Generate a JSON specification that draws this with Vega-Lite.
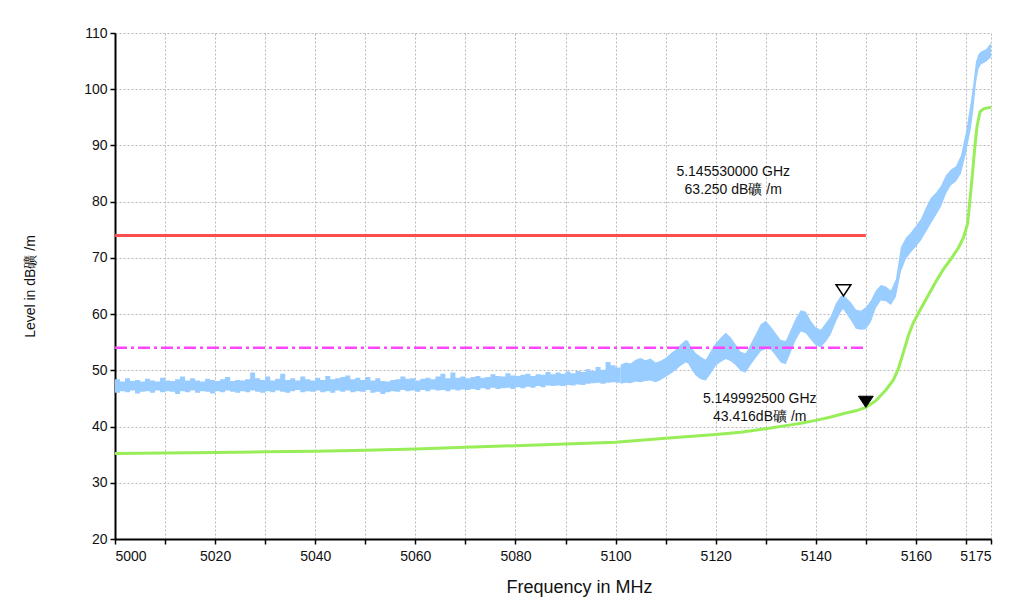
{
  "$schema": "https://vega.github.io/schema/vega-lite/v6.json",
  "width": 876,
  "height": 506,
  "autosize": "none",
  "padding": {"left": 115, "top": 33, "right": 44, "bottom": 60},
  "background": "white",
  "config": {
    "view": {"stroke": null},
    "font": "Liberation Sans",
    "axis": {
      "domainColor": "black", "domainWidth": 2,
      "tickColor": "black", "tickWidth": 1.5, "tickSize": 5,
      "labelFont": "Liberation Sans", "labelFontSize": 14, "labelColor": "#111",
      "titleFont": "Liberation Sans", "titleFontWeight": "normal", "titleColor": "#111",
      "gridColor": "#b8b8b8", "gridDash": [2, 2], "gridWidth": 1
    }
  },
  "datasets": {
    "blue": [
      {"f": 5000, "lo": 46.0, "hi": 48.4}, {"f": 5001, "lo": 46.3, "hi": 48.0}, {"f": 5002, "lo": 46.1, "hi": 48.6},
      {"f": 5003, "lo": 46.4, "hi": 48.1}, {"f": 5004, "lo": 45.9, "hi": 48.3}, {"f": 5005, "lo": 46.2, "hi": 48.0},
      {"f": 5006, "lo": 46.3, "hi": 48.5}, {"f": 5007, "lo": 46.0, "hi": 48.2}, {"f": 5008, "lo": 46.4, "hi": 48.0},
      {"f": 5009, "lo": 46.1, "hi": 48.7}, {"f": 5010, "lo": 46.3, "hi": 48.2}, {"f": 5011, "lo": 46.2, "hi": 48.1},
      {"f": 5012, "lo": 45.8, "hi": 48.4}, {"f": 5013, "lo": 46.3, "hi": 48.9}, {"f": 5014, "lo": 46.1, "hi": 48.2},
      {"f": 5015, "lo": 46.4, "hi": 48.6}, {"f": 5016, "lo": 46.0, "hi": 48.2}, {"f": 5017, "lo": 46.3, "hi": 48.0},
      {"f": 5018, "lo": 46.2, "hi": 48.5}, {"f": 5019, "lo": 45.9, "hi": 48.3}, {"f": 5020, "lo": 46.3, "hi": 48.1},
      {"f": 5021, "lo": 46.1, "hi": 48.4}, {"f": 5022, "lo": 46.4, "hi": 48.8}, {"f": 5023, "lo": 46.2, "hi": 48.1},
      {"f": 5024, "lo": 46.0, "hi": 48.3}, {"f": 5025, "lo": 46.3, "hi": 48.2}, {"f": 5026, "lo": 46.1, "hi": 48.4},
      {"f": 5027, "lo": 46.4, "hi": 49.6}, {"f": 5028, "lo": 46.2, "hi": 48.6}, {"f": 5029, "lo": 46.0, "hi": 48.3},
      {"f": 5030, "lo": 46.3, "hi": 48.9}, {"f": 5031, "lo": 46.1, "hi": 48.2}, {"f": 5032, "lo": 46.4, "hi": 48.5},
      {"f": 5033, "lo": 46.2, "hi": 49.4}, {"f": 5034, "lo": 46.0, "hi": 48.3}, {"f": 5035, "lo": 46.3, "hi": 48.6},
      {"f": 5036, "lo": 46.5, "hi": 48.2}, {"f": 5037, "lo": 46.1, "hi": 48.9}, {"f": 5038, "lo": 46.3, "hi": 48.4},
      {"f": 5039, "lo": 46.2, "hi": 48.2}, {"f": 5040, "lo": 46.4, "hi": 48.7}, {"f": 5041, "lo": 46.1, "hi": 48.3},
      {"f": 5042, "lo": 46.3, "hi": 49.0}, {"f": 5043, "lo": 46.0, "hi": 48.4}, {"f": 5044, "lo": 46.4, "hi": 48.6},
      {"f": 5045, "lo": 46.2, "hi": 48.8}, {"f": 5046, "lo": 46.4, "hi": 49.1}, {"f": 5047, "lo": 46.1, "hi": 48.4},
      {"f": 5048, "lo": 46.3, "hi": 48.7}, {"f": 5049, "lo": 46.2, "hi": 48.3}, {"f": 5050, "lo": 46.5, "hi": 48.8},
      {"f": 5051, "lo": 46.0, "hi": 48.2}, {"f": 5052, "lo": 46.2, "hi": 48.6}, {"f": 5053, "lo": 45.8, "hi": 48.1},
      {"f": 5054, "lo": 46.1, "hi": 48.0}, {"f": 5055, "lo": 46.3, "hi": 48.3}, {"f": 5056, "lo": 46.2, "hi": 48.4},
      {"f": 5057, "lo": 46.5, "hi": 48.9}, {"f": 5058, "lo": 46.3, "hi": 48.5}, {"f": 5059, "lo": 46.4, "hi": 48.6},
      {"f": 5060, "lo": 46.2, "hi": 48.2}, {"f": 5061, "lo": 46.5, "hi": 48.5}, {"f": 5062, "lo": 46.3, "hi": 48.7},
      {"f": 5063, "lo": 46.6, "hi": 48.4}, {"f": 5064, "lo": 46.4, "hi": 48.9}, {"f": 5065, "lo": 46.5, "hi": 49.4},
      {"f": 5066, "lo": 46.3, "hi": 48.6}, {"f": 5067, "lo": 46.6, "hi": 49.6}, {"f": 5068, "lo": 46.4, "hi": 48.7},
      {"f": 5069, "lo": 46.6, "hi": 48.9}, {"f": 5070, "lo": 46.5, "hi": 48.6}, {"f": 5071, "lo": 46.7, "hi": 48.8},
      {"f": 5072, "lo": 46.5, "hi": 49.0}, {"f": 5073, "lo": 46.8, "hi": 48.7}, {"f": 5074, "lo": 46.6, "hi": 48.8},
      {"f": 5075, "lo": 46.9, "hi": 49.3}, {"f": 5076, "lo": 46.7, "hi": 49.0}, {"f": 5077, "lo": 46.8, "hi": 48.9},
      {"f": 5078, "lo": 46.9, "hi": 49.5}, {"f": 5079, "lo": 46.7, "hi": 49.1}, {"f": 5080, "lo": 47.0, "hi": 49.0},
      {"f": 5081, "lo": 46.8, "hi": 49.2}, {"f": 5082, "lo": 47.1, "hi": 49.4}, {"f": 5083, "lo": 46.9, "hi": 49.0},
      {"f": 5084, "lo": 47.2, "hi": 49.3}, {"f": 5085, "lo": 47.0, "hi": 49.2}, {"f": 5086, "lo": 47.3, "hi": 49.7},
      {"f": 5087, "lo": 47.2, "hi": 49.3}, {"f": 5088, "lo": 47.3, "hi": 49.6}, {"f": 5089, "lo": 47.2, "hi": 49.4},
      {"f": 5090, "lo": 47.4, "hi": 49.8}, {"f": 5091, "lo": 47.3, "hi": 49.5}, {"f": 5092, "lo": 47.5, "hi": 49.9},
      {"f": 5093, "lo": 47.4, "hi": 49.7}, {"f": 5094, "lo": 47.6, "hi": 50.2}, {"f": 5095, "lo": 47.7, "hi": 49.9},
      {"f": 5096, "lo": 47.8, "hi": 50.6}, {"f": 5097, "lo": 47.6, "hi": 50.1}, {"f": 5098, "lo": 47.8, "hi": 51.5},
      {"f": 5099, "lo": 47.9, "hi": 50.9}, {"f": 5100, "lo": 47.8, "hi": 50.5}, {"f": 5101, "lo": 47.6, "hi": 51.0},
      {"f": 5102, "lo": 47.8, "hi": 51.4}, {"f": 5103, "lo": 47.7, "hi": 51.2}, {"f": 5104, "lo": 48.0, "hi": 51.9},
      {"f": 5105, "lo": 47.9, "hi": 52.2}, {"f": 5106, "lo": 48.1, "hi": 51.8}, {"f": 5107, "lo": 48.2, "hi": 52.1},
      {"f": 5108, "lo": 47.9, "hi": 51.4}, {"f": 5109, "lo": 48.3, "hi": 51.7}, {"f": 5110, "lo": 48.8, "hi": 52.2},
      {"f": 5111, "lo": 49.4, "hi": 53.0}, {"f": 5112, "lo": 50.0, "hi": 53.7}, {"f": 5113, "lo": 50.8, "hi": 54.6},
      {"f": 5114, "lo": 51.4, "hi": 55.4}, {"f": 5114.5, "lo": 51.2, "hi": 55.2}, {"f": 5115, "lo": 50.4, "hi": 54.3},
      {"f": 5116, "lo": 49.1, "hi": 53.1}, {"f": 5117, "lo": 48.4, "hi": 52.4}, {"f": 5118, "lo": 48.2, "hi": 51.9},
      {"f": 5119, "lo": 49.4, "hi": 53.4}, {"f": 5120, "lo": 50.8, "hi": 54.8}, {"f": 5121, "lo": 51.5, "hi": 55.8},
      {"f": 5122, "lo": 52.0, "hi": 56.7}, {"f": 5123, "lo": 51.6, "hi": 55.9}, {"f": 5124, "lo": 50.9, "hi": 54.6},
      {"f": 5125, "lo": 49.9, "hi": 53.3}, {"f": 5126, "lo": 49.6, "hi": 53.0}, {"f": 5127, "lo": 51.0, "hi": 54.7},
      {"f": 5128, "lo": 52.2, "hi": 56.4}, {"f": 5129, "lo": 53.4, "hi": 58.2}, {"f": 5130, "lo": 53.8, "hi": 58.8},
      {"f": 5131, "lo": 53.7, "hi": 57.8}, {"f": 5132, "lo": 52.6, "hi": 56.6}, {"f": 5133, "lo": 51.4, "hi": 55.4},
      {"f": 5134, "lo": 51.1, "hi": 55.2}, {"f": 5135, "lo": 53.2, "hi": 57.2}, {"f": 5136, "lo": 55.4, "hi": 59.2},
      {"f": 5137, "lo": 56.9, "hi": 60.7}, {"f": 5138, "lo": 56.6, "hi": 60.4}, {"f": 5139, "lo": 55.5, "hi": 58.8},
      {"f": 5140, "lo": 54.4, "hi": 57.6}, {"f": 5141, "lo": 54.1, "hi": 57.2}, {"f": 5142, "lo": 55.1, "hi": 58.4},
      {"f": 5143, "lo": 56.4, "hi": 59.6}, {"f": 5144, "lo": 58.6, "hi": 61.9}, {"f": 5145, "lo": 60.4, "hi": 63.2},
      {"f": 5145.5, "lo": 60.9, "hi": 63.4}, {"f": 5146, "lo": 60.2, "hi": 63.0}, {"f": 5147, "lo": 58.9, "hi": 62.1},
      {"f": 5148, "lo": 57.4, "hi": 60.8}, {"f": 5149, "lo": 57.2, "hi": 60.6}, {"f": 5150, "lo": 57.3, "hi": 61.2},
      {"f": 5151, "lo": 58.6, "hi": 62.4}, {"f": 5152, "lo": 61.1, "hi": 64.2}, {"f": 5153, "lo": 62.4, "hi": 65.2},
      {"f": 5154, "lo": 62.3, "hi": 64.9}, {"f": 5155, "lo": 61.6, "hi": 64.2}, {"f": 5156, "lo": 63.1, "hi": 66.2},
      {"f": 5157, "lo": 67.6, "hi": 71.9}, {"f": 5158, "lo": 69.8, "hi": 73.6}, {"f": 5159, "lo": 71.0, "hi": 74.5},
      {"f": 5160, "lo": 72.0, "hi": 75.7}, {"f": 5161, "lo": 73.1, "hi": 76.9}, {"f": 5162, "lo": 74.6, "hi": 78.9},
      {"f": 5163, "lo": 76.1, "hi": 80.7}, {"f": 5164, "lo": 77.6, "hi": 81.6}, {"f": 5165, "lo": 79.1, "hi": 82.8},
      {"f": 5166, "lo": 81.4, "hi": 84.7}, {"f": 5167, "lo": 82.9, "hi": 85.7}, {"f": 5168, "lo": 83.6, "hi": 86.3},
      {"f": 5169, "lo": 85.0, "hi": 88.2}, {"f": 5170, "lo": 88.6, "hi": 92.4}, {"f": 5171, "lo": 93.1, "hi": 97.9},
      {"f": 5171.5, "lo": 96.6, "hi": 101.2}, {"f": 5172, "lo": 101.1, "hi": 104.9}, {"f": 5172.5, "lo": 103.6, "hi": 106.2},
      {"f": 5173, "lo": 104.4, "hi": 106.7}, {"f": 5174, "lo": 104.9, "hi": 107.1}, {"f": 5175, "lo": 105.7, "hi": 108.2}
    ],
    "green": [
      {"f": 5000, "v": 35.2}, {"f": 5010, "v": 35.3}, {"f": 5020, "v": 35.4}, {"f": 5030, "v": 35.5},
      {"f": 5040, "v": 35.6}, {"f": 5050, "v": 35.8}, {"f": 5060, "v": 36.0}, {"f": 5070, "v": 36.3},
      {"f": 5080, "v": 36.6}, {"f": 5090, "v": 36.9}, {"f": 5100, "v": 37.2}, {"f": 5110, "v": 37.9},
      {"f": 5120, "v": 38.6}, {"f": 5125, "v": 39.0}, {"f": 5130, "v": 39.6}, {"f": 5135, "v": 40.3},
      {"f": 5137, "v": 40.6}, {"f": 5140, "v": 41.1}, {"f": 5143, "v": 41.7}, {"f": 5146, "v": 42.4},
      {"f": 5148, "v": 42.8}, {"f": 5150, "v": 43.4}, {"f": 5152, "v": 44.6}, {"f": 5154, "v": 46.5},
      {"f": 5155.5, "v": 48.3}, {"f": 5156.5, "v": 50.3}, {"f": 5157.5, "v": 53.2}, {"f": 5158.5, "v": 56.2},
      {"f": 5159.5, "v": 58.5}, {"f": 5161, "v": 61.0}, {"f": 5162.5, "v": 63.4}, {"f": 5164, "v": 65.8},
      {"f": 5165.5, "v": 68.0}, {"f": 5167, "v": 69.8}, {"f": 5168.5, "v": 71.8}, {"f": 5169.5, "v": 73.6},
      {"f": 5170.3, "v": 76.0}, {"f": 5170.8, "v": 80.3}, {"f": 5171.3, "v": 85.0}, {"f": 5171.8, "v": 90.0},
      {"f": 5172.2, "v": 93.3}, {"f": 5172.8, "v": 96.0}, {"f": 5173.5, "v": 96.5}, {"f": 5175, "v": 96.8}
    ],
    "redLimit": [{"f": 5000, "v": 74}, {"f": 5150, "v": 74}],
    "magentaLimit": [{"f": 5000, "v": 54}, {"f": 5150, "v": 54}],
    "openMarker": [{"f": 5145.53, "v": 63.25}],
    "filledMarker": [{"f": 5149.9925, "v": 43.416}],
    "notes": [
      {"f": 5123.5, "v": 85.2, "label": "5.145530000 GHz\n63.250 dB礦 /m"},
      {"f": 5128.8, "v": 44.9, "label": "5.149992500 GHz\n43.416dB礦 /m"}
    ]
  },
  "layer": [
    {
      "data": {"name": "blue"},
      "transform": [{"filter": "datum.f <= 5101"}],
      "mark": {"type": "area", "interpolate": "step-after", "color": "#99ccff", "opacity": 1},
      "encoding": {
        "x": {
          "field": "f", "type": "quantitative",
          "scale": {"domain": [5000, 5175], "nice": false, "zero": false},
          "axis": {
            "title": "Frequency in MHz", "titleFontSize": 18,
            "titleX": 464, "titleY": 53, "titleBaseline": "alphabetic", "titleAnchor": null, "titleAlign": "center",
            "values": [5000, 5010, 5020, 5030, 5040, 5050, 5060, 5070, 5080, 5090, 5100, 5110, 5120, 5130, 5140, 5150, 5160, 5170, 5175],
            "format": "d",
            "labelExpr": "(datum.value % 20 == 0 || datum.value == 5175) ? datum.label : ''",
            "labelPadding": 5, "grid": true
          }
        },
        "y": {
          "field": "lo", "type": "quantitative",
          "scale": {"domain": [20, 110], "nice": false, "zero": false},
          "axis": {
            "title": "Level in dB礦 /m", "titleFontSize": 14,
            "titleX": -85, "titleY": 253, "titleAnchor": null, "titleAlign": "center", "titleBaseline": "middle",
            "values": [20, 25, 30, 35, 40, 45, 50, 55, 60, 65, 70, 75, 80, 85, 90, 95, 100, 105, 110],
            "labelExpr": "datum.value % 10 == 0 ? datum.label : ''",
            "labelPadding": 3, "grid": true
          }
        },
        "y2": {"field": "hi"}
      }
    },
    {
      "data": {"name": "blue"},
      "transform": [{"filter": "datum.f >= 5101"}],
      "mark": {"type": "area", "interpolate": "linear", "color": "#99ccff", "opacity": 1},
      "encoding": {
        "x": {"field": "f", "type": "quantitative"},
        "y": {"field": "lo", "type": "quantitative"},
        "y2": {"field": "hi"}
      }
    },
    {
      "data": {"name": "green"},
      "mark": {"type": "line", "color": "#98ee58", "strokeWidth": 3},
      "encoding": {
        "x": {"field": "f", "type": "quantitative"},
        "y": {"field": "v", "type": "quantitative"}
      }
    },
    {
      "data": {"name": "redLimit"},
      "mark": {"type": "line", "color": "#ff4d4d", "strokeWidth": 3},
      "encoding": {
        "x": {"field": "f", "type": "quantitative"},
        "y": {"field": "v", "type": "quantitative"}
      }
    },
    {
      "data": {"name": "magentaLimit"},
      "mark": {"type": "line", "color": "#ff44ff", "strokeWidth": 2.5, "strokeDash": [12, 4, 3, 4]},
      "encoding": {
        "x": {"field": "f", "type": "quantitative"},
        "y": {"field": "v", "type": "quantitative"}
      }
    },
    {
      "data": {"name": "openMarker"},
      "mark": {"type": "point", "shape": "M-1,-1.5L1,-1.5L0,0Z", "size": 220, "filled": true, "fill": "white", "stroke": "black", "strokeWidth": 1.5, "opacity": 1},
      "encoding": {
        "x": {"field": "f", "type": "quantitative"},
        "y": {"field": "v", "type": "quantitative"}
      }
    },
    {
      "data": {"name": "filledMarker"},
      "mark": {"type": "point", "shape": "M-1,-1.5L1,-1.5L0,0Z", "size": 220, "filled": true, "fill": "black", "stroke": "black", "strokeWidth": 1, "opacity": 1},
      "encoding": {
        "x": {"field": "f", "type": "quantitative"},
        "y": {"field": "v", "type": "quantitative"}
      }
    },
    {
      "data": {"name": "notes"},
      "mark": {"type": "text", "lineBreak": "\n", "fontSize": 14, "font": "Liberation Sans", "color": "#111", "align": "center", "baseline": "middle", "lineHeight": 18},
      "encoding": {
        "x": {"field": "f", "type": "quantitative"},
        "y": {"field": "v", "type": "quantitative"},
        "text": {"field": "label"}
      }
    }
  ]
}
